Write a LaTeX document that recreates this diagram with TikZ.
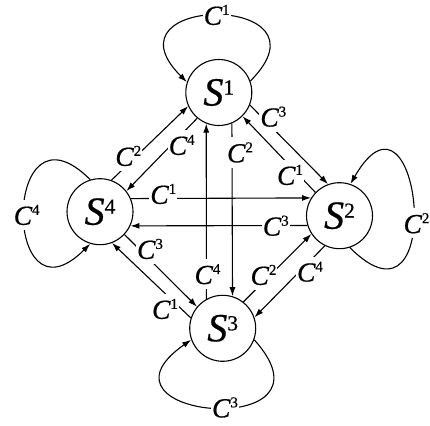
\documentclass[tikz,border=0pt]{standalone}
\usepackage{fontspec}
\setmainfont{Liberation Serif}
\newfontfamily\labit{Liberation Serif}[UprightFont={* Italic},FakeBold=0.6]
\newfontfamily\labrm{Liberation Serif}[FakeBold=0.6]
\usetikzlibrary{arrows.meta}
\newcommand\Slab[1]{{\fontsize{40}{40}\labit S}\raisebox{11pt}{\fontsize{21.5}{21.5}\labrm #1}}
\newcommand\Clab[1]{{\fontsize{27.5}{27.5}\labit C}\raisebox{10pt}{\fontsize{15}{15}\labrm #1}}
\begin{document}
\begin{tikzpicture}[x=1pt,y=1pt,
  state/.style={circle,draw,line width=1.1pt,minimum size=66pt,inner sep=0pt},
  lbl/.style={fill=white,inner xsep=1pt,inner ysep=5pt},
  arr/.style={line width=1.1pt,-{Latex[length=9pt,width=6pt]}}]
\useasboundingbox (0,0) rectangle (430,425);
\node[state] (S1) at (218.8,332.5) {\Slab{1}};
\node[state] (S2) at (339.5,209.3) {\Slab{2}};
\node[state] (S3) at (222.7,96.7) {\Slab{3}};
\node[state] (S4) at (100,213.3) {\Slab{4}};
% self loops
\draw[arr] (S1.20) to[out=45,in=135,distance=125pt] (S1.162);
\draw[arr] (S2.-72) to[out=-45,in=60,distance=140pt] (S2.71);
\draw[arr] (S3.340) to[out=-48,in=215,distance=138pt] (S3.200);
\draw[arr] (S4.107) to[out=135,in=225,distance=125pt] (S4.253);
% vertical
\draw[arr] (S3.119.4) -- (S1.248.1);
\draw[arr] (S1.293.6) -- (S3.73.6);
% horizontal
\draw[arr] (S4.23.6) -- (S2.148.6);
\draw[arr] (S2.197.3) -- (S4.335.3);
% diagonals
\draw[arr] (S4.70) -- (S1.204);
\draw[arr] (S1.230) -- (S4.38);
\draw[arr] (S1.338) -- (S2.110);
\draw[arr] (S2.136) -- (S1.315);
\draw[arr] (S3.52) -- (S2.213);
\draw[arr] (S2.244) -- (S3.19);
\draw[arr] (S4.317) -- (S3.140);
\draw[arr] (S3.162) -- (S4.291);
% labels
\node[lbl] (l11) at (216.7,410) {\Clab{1}};
\node[lbl] (l22) at (416.5,201.7) {\Clab{2}};
\node[lbl] (l33) at (225,17.5) {\Clab{3}};
\node[lbl] (l44) at (26.7,210) {\Clab{4}};
\node[lbl] (l41) at (128.3,269) {\Clab{2}};
\node[lbl] (l14) at (181.7,280) {\Clab{4}};
\node[lbl] (l12) at (273.3,308.3) {\Clab{3}};
\node[lbl] (l21) at (290,250) {\Clab{1}};
\node[lbl] (l23) at (310,153.3) {\Clab{4}};
\node[lbl] (l32) at (263.5,150) {\Clab{2}};
\node[lbl] (l34) at (165,116) {\Clab{1}};
\node[lbl] (l43) at (150,176) {\Clab{3}};
\node[lbl] (l31) at (207.5,150.8) {\Clab{4}};
\node[lbl] (l13) at (240,272.5) {\Clab{2}};
\node[lbl] (l42) at (163.3,231) {\Clab{1}};
\node[lbl] (l24) at (275.8,199.2) {\Clab{3}};
\end{tikzpicture}
\end{document}
